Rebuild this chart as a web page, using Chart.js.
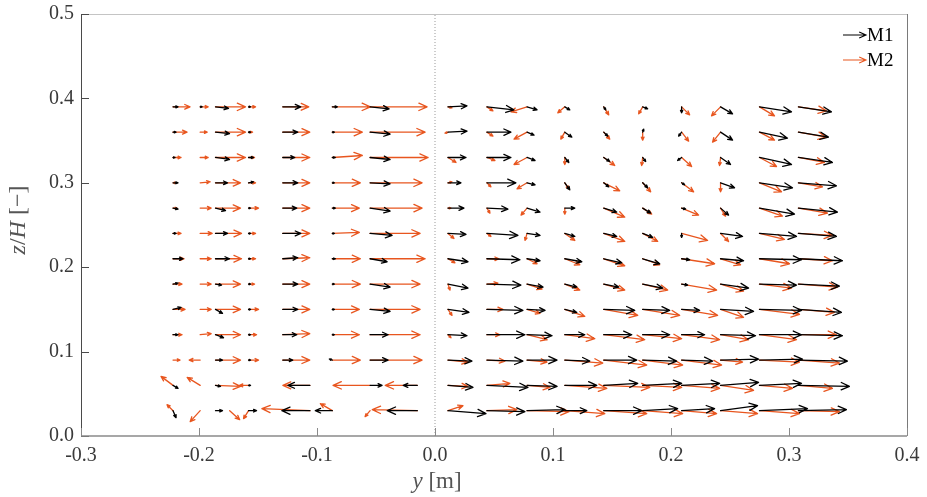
<!DOCTYPE html>
<html lang="en">
<head>
<meta charset="UTF-8">
<title>Vector field M1 / M2</title>
<script src="https://cdn.jsdelivr.net/npm/chart.js"></script>
<style>
    body { margin: 0; background: #fff; overflow: hidden; }
    canvas { display: block; }
</style>
</head>
<body>
<canvas id="quiver" width="927" height="497"></canvas>
<script>
// measurement grid: lateral position y [m] and height z/H
const colY = [-0.222, -0.199, -0.186, -0.174, -0.158, -0.129, -0.106, -0.087, -0.055, -0.015,
              0.011, 0.044, 0.078, 0.110, 0.143, 0.176, 0.209, 0.242, 0.275, 0.308];
const rowZ = [0.39, 0.36, 0.33, 0.30, 0.27, 0.24, 0.21, 0.18, 0.15, 0.12, 0.09, 0.06, 0.03];

// velocity components (quiver units), one row per z/H, one column per y
const m1U = [
    [5, 2, 13, 0, 2, 18, 0, 5, 19, 0,   19, 27, 10, 5, 2, 5, 0, 12, 32, 33],
    [3, 0, 14, 0, 2, 15, 0, 2, 20, 0,   19, 24, 7, 7, 4, 1, -3, 12, 28, 30],
    [2, 0, 14, 0, 5, 12, 0, 3, 20, 0,   18, 24, 8, 4, 6, 3, -4, 10, 32, 34],
    [5, 0, 12, 0, 5, 15, 0, 2, 20, 0,   13, 29, 8, 5, 5, 5, 3, 14, 33, 38],
    [5, 0, 10, 0, 2, 14, 0, 3, 20, 0,   16, 21, 13, 10, 13, 8, 4, 8, 35, 39],
    [3, 0, 12, 0, 2, 18, 0, 2, 22, 0,   18, 31, 13, 10, 13, 10, 0, 22, 37, 38],
    [10, 0, 14, 0, 2, 15, 0, 3, 17, 0,  20, 33, 13, 17, 18, 17, 8, 23, 42, 44],
    [5, 0, 6, 0, 2, 15, 0, 2, 20, 0,    20, 34, 16, 12, 15, 20, 6, 28, 37, 41],
    [8, 0, 7, 0, 2, 15, 0, 2, 20, 0,    21, 36, 18, 12, 31, 27, 18, 33, 42, 43],
    [5, 0, 8, 0, 2, 14, 0, 2, 18, 0,    19, 38, 25, 20, 28, 27, 23, 35, 42, 44],
    [0, 0, 7, 0, 2, 10, 0, -3, 18, 0,   24, 36, 30, 25, 33, 34, 31, 38, 43, 49],
    [5, 0, 5, 0, 2, 0, -22, 0, 12, -14, 25, 41, 30, 32, 34, 39, 38, 38, 42, 51],
    [3, 0, 7, 0, 8, 0, -28, -17, 0, -30, 38, 38, 38, 22, 38, 35, 33, 37, 48, 48]
];
const m1W = [
    [0, 0, -1.5, 0, 0, 0, 0, 0, -2, 0,  1, -3, -3, -3, -3, -2, -6, -7, -5, -5],
    [0, 0, -1.5, 0, 0, 0, 0, 0, -2, 0,  1, 0, -3, -5, -4, 3, -4, -8, -6, -5],
    [0, 0, -2, 0, 0, 0, 0, 0, -2, 0,    0, 0, -3, -5, -4, -4, -3, -7, -7, -5],
    [0, 0, 0, 0, 1, 0, 0, 0, -1, 0,     0, 0, -2, -7, -4, -5, -2, -5, -5, -3],
    [-1, 0, -2.5, 0, 0, 0, 0, 0, -3, 0, 0, -1, -4, 0, -4, -5, -1, -7, -6, -4],
    [0, 0, 0, 0, 0, 0, 0, 0, -2, 0,     -1, -2, -2, -3, -3, -4, -4, -3, -3, -3],
    [0, 0, 0, 0, 0, 1, 0, 0, -3, 0,     -3, -1, -2, -3, -4, -5, -1, -2, -1, -2],
    [1, 0, -1, 0, 0, 0, 0, 0, -3, 0,    -4, -1, -3, -3, -3, -4, -1, -4, -1, -2],
    [2, 0, -4, 0, 0, 0, 0, 0, -2, 0,    -3, -1, -1, -3, -1, -1, -1, -2, -1, -3],
    [0, 0, -3, 0, 0, 0, 0, 0, 0, 0,     -1, 0, -1, 0, 0, 0, 0, -1, 0, -1],
    [0, 0, 0, 0, 0, 0, 0, 1, 0, 0,      -1, -1, 0, -1, 0, -1, -1, 1, 1, -1],
    [-3, 0, -1, 0, 0, 0, 0, 0, 0, 0,    -2, -2, -1, 0, 2, 2, 2, 3, 2, -1],
    [-7, 0, 0, 0, 0, 0, 0, 0, 0, 0,     -3, -1, 1, 0, 0, 2, 2, 5, 2, 1]
];
const m2U = [
    [17, 8, 30, 0, 7, 26, 0, 38, 57, 0,   4, 6, -16, -7, 5, -4, 8, -9, 15, 28],
    [14, 7, 30, 0, 4, 27, 0, 30, 55, 0,   -3, 6, -13, -4, 6, 0, 7, -8, 15, 28],
    [8, 8, 30, 0, 6, 27, 0, 30, 58, 0,    8, 8, -13, 0, 11, -1, 10, -1, 17, 26],
    [3, 10, 25, 0, 7, 27, 0, 28, 52, 0,   4, 4, -10, 4, 16, 8, 12, 0, 22, 24],
    [4, 11, 25, 0, 10, 27, 0, 27, 52, 0,  3, 3, -6, 0, 21, 9, 17, 5, 23, 29],
    [8, 12, 26, 0, 7, 27, 0, 27, 50, 0,   6, 4, -2, 10, 21, 15, 26, 8, 25, 34],
    [11, 11, 26, 0, 7, 27, 0, 28, 55, 0,  7, 12, 10, 15, 21, 17, 33, 20, 30, 34],
    [9, 11, 25, 0, 6, 27, 0, 28, 50, 0,   2, 11, 15, 15, 21, 25, 35, 23, 32, 39],
    [12, 11, 25, 0, 10, 27, 0, 27, 50, 0, 4, 16, 13, 20, 34, 37, 36, 23, 40, 36],
    [9, 11, 25, 0, 8, 27, 0, 27, 50, 0,   3, 13, 20, 30, 41, 39, 38, 28, 37, 38],
    [7, -11, 25, 0, 10, 27, 0, 28, 52, 0, 20, 18, 20, 38, 43, 40, 40, 22, 40, 41],
    [-12, -13, 25, 0, -9, 0, -27, 0, -37, -32, 20, 23, 23, 42, 46, 39, 38, 33, 33, 34],
    [-6, -10, 0, 10, -5, 0, -48, -12, -5, -45, 15, 30, 42, 40, 43, 40, 35, 37, 40, 41]
];
const m2W = [
    [0, 0, 0, 0, 0, 0, 0, 0, 0, 0,   -1, -4, -5, -6, -8, -7, -8, -9, -9, -4],
    [0, 0, 0, 0, 0, 0, 0, 0, 0, 0,   -1, -4, -7, -7, -7, -8, -9, -10, -8, -5],
    [0, 0, 0, 0, 0, 0, 0, 2, 0, 0,   -5, -3, -7, -7, -8, -8, -9, -8, -9, -5],
    [0, 1, 0, 0, 0, 0, 0, 0, 0, 0,   1, -4, -6, -6, -8, -9, -9, -9, -9, -4],
    [0, 0, 0, 0, 0, 0, 0, 0, 0, 0,   0, -5, -7, -6, -9, -6, -7, -8, -8, -5],
    [0, 0, 0, 0, 0, 0, 0, 1, 0, 0,   -5, -3, -7, -7, -8, -8, -7, -8, -6, -2],
    [0, 0, 0, 0, 0, 1, 0, 0, 0, 0,   -4, 0, -5, -6, -7, -6, -5, -6, -5, -2],
    [0, 0, 0, 0, 0, 0, 0, 0, 0, 0,   -6, 1, -5, -6, -6, -6, -6, -7, -4, -3],
    [0, 0, 0, 0, 0, 0, 0, 0, 0, 0,   -6, 0, -4, -7, -6, -6, -6, -8, -5, -3],
    [0, 1, 0, 0, 0, 1, 0, 0, 0, 0,   -3, 0, -5, -4, -5, -4, -5, -5, -5, 0],
    [0, 0, 0, 0, 0, 0, 0, 0, 0, 0,   -2, -1, -2, -3, -5, -5, -5, -2, -2, -3],
    [9, 8, -1, 0, 0, 0, 0, 0, 0, 0,  -1, 2, -2, -3, -2, -2, -3, -5, -3, -3],
    [6, -11, 0, -9, -8, 0, 2, 7, -6, 1, 5, 1, -1, -3, -3, -3, -3, -3, -3, -1]
];

const seriesNames = ["M1", "M2"];
const seriesColors = ["#000000", "#e8561f"];

// quiver scaling: one unit in y [m] and in z/H
const SCALE_Y = 0.1 / 118;
const SCALE_Z = 0.1 / 84.4;

const serif = "'Liberation Serif', 'DejaVu Serif', serif";

function drawArrow(ctx, x0, y0, x1, y1, color) {
    const dx = x1 - x0, dy = y1 - y0;
    const len = Math.hypot(dx, dy);
    if (len < 0.6) return;
    const head = Math.min(9, 0.28 * len + 1);
    const a = Math.atan2(dy, dx), spread = 0.42;
    ctx.strokeStyle = color;
    ctx.beginPath();
    ctx.moveTo(x0, y0);
    ctx.lineTo(x1, y1);
    ctx.moveTo(x1 - head * Math.cos(a - spread), y1 - head * Math.sin(a - spread));
    ctx.lineTo(x1, y1);
    ctx.lineTo(x1 - head * Math.cos(a + spread), y1 - head * Math.sin(a + spread));
    ctx.stroke();
}

// draw text made of segments [text, italic]
function drawParts(ctx, parts, x, y, size) {
    let total = 0;
    parts.forEach(p => {
        ctx.font = (p[1] ? "italic " : "") + size + "px " + serif;
        total += ctx.measureText(p[0]).width;
    });
    let cx = x - total / 2;
    parts.forEach(p => {
        ctx.font = (p[1] ? "italic " : "") + size + "px " + serif;
        ctx.fillText(p[0], cx, y);
        cx += ctx.measureText(p[0]).width;
    });
}

const quiverPlugin = {
    id: "quiver",
    afterDatasetsDraw(chart) {
        const ctx = chart.ctx;
        const xs = chart.scales.x, ys = chart.scales.y;
        const area = chart.chartArea;
        ctx.save();
        ctx.lineWidth = 1.3;
        ctx.lineCap = "round";
        ctx.lineJoin = "round";
        // M2 first, M1 on top
        const fields = [[m2U, m2W, seriesColors[1]], [m1U, m1W, seriesColors[0]]];
        fields.forEach(([U, W, color]) => {
            rowZ.forEach((z, r) => {
                colY.forEach((y, c) => {
                    const x0 = xs.getPixelForValue(y);
                    const y0 = ys.getPixelForValue(z);
                    const x1 = xs.getPixelForValue(y + U[r][c] * SCALE_Y);
                    const y1 = ys.getPixelForValue(z + W[r][c] * SCALE_Z);
                    drawArrow(ctx, x0, y0, x1, y1, color);
                });
            });
        });
        ctx.restore();

        // axes box and inward ticks
        ctx.save();
        ctx.lineWidth = 1;
        ctx.strokeStyle = "#c4c4c4";
        ctx.beginPath();
        ctx.moveTo(area.left, area.top + 0.5);
        ctx.lineTo(area.right, area.top + 0.5);
        ctx.stroke();
        ctx.strokeStyle = "#7a7a7a";
        ctx.beginPath();
        ctx.moveTo(area.right + 0.5, area.top);
        ctx.lineTo(area.right + 0.5, area.bottom);
        ctx.stroke();
        ctx.strokeStyle = "#4a4a4a";
        ctx.beginPath();
        ctx.moveTo(area.left + 0.5, area.top);
        ctx.lineTo(area.left + 0.5, area.bottom);
        ys.ticks.forEach(t => {
            const p = Math.round(ys.getPixelForValue(t.value)) + 0.5;
            ctx.moveTo(area.left, p);
            ctx.lineTo(area.left + 8, p);
        });
        ctx.stroke();
        ctx.strokeStyle = "#8a8a8a";
        ctx.lineWidth = 1.6;
        ctx.beginPath();
        ctx.moveTo(area.left, area.bottom);
        ctx.lineTo(area.right, area.bottom);
        ctx.stroke();
        ctx.lineWidth = 1;
        ctx.beginPath();
        xs.ticks.forEach(t => {
            const p = Math.round(xs.getPixelForValue(t.value)) + 0.5;
            ctx.moveTo(p, area.bottom);
            ctx.lineTo(p, area.bottom - 8);
        });
        ctx.stroke();

        // legend
        const lx = area.right - 64;
        seriesNames.forEach((name, i) => {
            const ly = area.top + 21 + i * 25;
            ctx.lineWidth = 1.1;
            drawArrow(ctx, lx, ly, lx + 23, ly, seriesColors[i]);
            ctx.fillStyle = "#000";
            ctx.font = "19px " + serif;
            ctx.textBaseline = "middle";
            ctx.textAlign = "left";
            ctx.fillText(name, lx + 24, ly + 1);
        });

        // axis titles
        ctx.fillStyle = "#555";
        ctx.textBaseline = "middle";
        ctx.textAlign = "left";
        drawParts(ctx, [["y", true], [" [m]", false]], xs.getPixelForValue(0) + 2, 482, 23);
        ctx.translate(19, 220);
        ctx.rotate(-Math.PI / 2);
        drawParts(ctx, [["z", true], ["/", false], ["H", true], [" [\u2212]", false]], 0, 0, 24);
        ctx.restore();
    }
};

const fmt = v => (Math.abs(v) < 1e-9 ? 0 : v).toFixed(1);

new Chart(document.getElementById("quiver"), {
    type: "scatter",
    data: {
        datasets: [{
            label: "y = 0",
            data: [{ x: 0, y: 0 }, { x: 0, y: 0.5 }],
            showLine: true,
            borderColor: "#9a9a9a",
            borderWidth: 1,
            borderDash: [1, 2],
            pointRadius: 0
        }]
    },
    options: {
        responsive: false,
        animation: false,
        events: [],
        layout: { padding: { top: 14, right: 20, left: 0, bottom: 0 } },
        plugins: { legend: { display: false }, tooltip: { enabled: false } },
        scales: {
            x: {
                type: "linear",
                min: -0.3,
                max: 0.4,
                afterFit: s => { s.height = 61; s.paddingLeft = 0; s.paddingRight = 0; },
                grid: { display: false, drawTicks: false },
                border: { display: false },
                ticks: {
                    stepSize: 0.1,
                    padding: 8,
                    color: "#3a3a3a",
                    font: { family: serif, size: 20 },
                    callback: fmt
                }
            },
            y: {
                type: "linear",
                min: 0,
                max: 0.5,
                afterFit: s => { s.width = 81; s.paddingTop = 0; s.paddingBottom = 0; },
                grid: { display: false, drawTicks: false },
                border: { display: false },
                ticks: {
                    stepSize: 0.1,
                    padding: 7,
                    color: "#3a3a3a",
                    font: { family: serif, size: 20 },
                    callback: fmt
                }
            }
        }
    },
    plugins: [quiverPlugin]
});
</script>
</body>
</html>
